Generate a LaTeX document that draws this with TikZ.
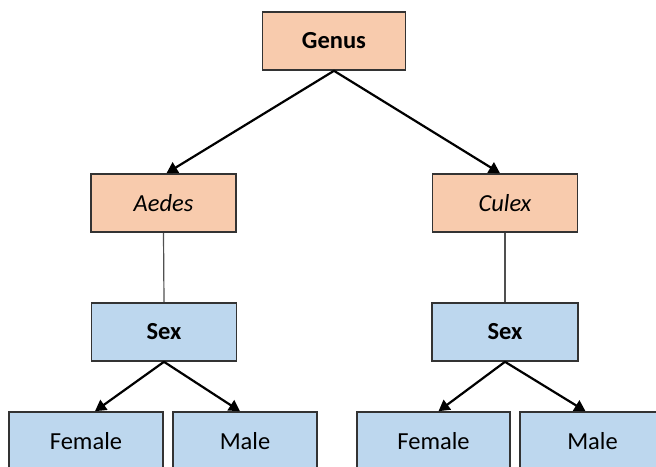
\documentclass[tikz,border=0pt]{standalone}
\usepackage{fontspec}
\setmainfont{Carlito}
\usetikzlibrary{arrows.meta,calc}
\definecolor{orangefill}{HTML}{F8CBAD}
\definecolor{bluefill}{HTML}{BDD7EE}
\definecolor{boxline}{HTML}{333333}
\definecolor{thinline}{HTML}{505050}
\begin{document}
\begin{tikzpicture}[x=1pt,y=-1pt,
  box/.style={draw=boxline,line width=1.6pt,minimum height=58pt,inner sep=0pt,font=\fontsize{24.5}{28}\selectfont},
  genusbox/.style={box,fill=orangefill},
  sexbox/.style={box,fill=bluefill},
  arr/.style={line width=2.2pt,-{Triangle[length=11pt,width=12pt]}},
  plain/.style={draw=thinline,line width=1.2pt}]
\useasboundingbox (0,0) rectangle (656,466);
\clip (0,0) rectangle (656,466);
\node[genusbox,minimum width=143pt] (genus) at (334,41) {\textbf{Genus}};
\node[genusbox,minimum width=145pt] (aedes) at (163.5,203) {\textit{Aedes}};
\node[genusbox,minimum width=145pt] (culex) at (505,203) {\textit{Culex}};
\node[sexbox,minimum width=145pt] (sexa) at (164,332) {\textbf{Sex}};
\node[sexbox,minimum width=146pt] (sexc) at (505,332) {\textbf{Sex}};
\node[sexbox,minimum width=154pt] (fema) at (86,441) {Female};
\node[sexbox,minimum width=144pt] (malea) at (245,441) {Male};
\node[sexbox,minimum width=153pt] (femc) at (433.5,441) {Female};
\node[sexbox,minimum width=145pt] (malec) at (592.5,441) {Male};
\draw[arr] (genus.south) -- ($(aedes.north)+(3,0)$);
\draw[arr] (genus.south) -- ($(culex.north)+(-5,0)$);
\draw[plain] (aedes.south) -- (sexa.north);
\draw[plain] (culex.south) -- (sexc.north);
\draw[arr] (sexa.south) -- ($(fema.north)+(9,0)$);
\draw[arr] (sexa.south) -- ($(malea.north)+(-5,0)$);
\draw[arr] (sexc.south) -- ($(femc.north)+(5,0)$);
\draw[arr] (sexc.south) -- ($(malec.north)+(-7,0)$);
\end{tikzpicture}
\end{document}
